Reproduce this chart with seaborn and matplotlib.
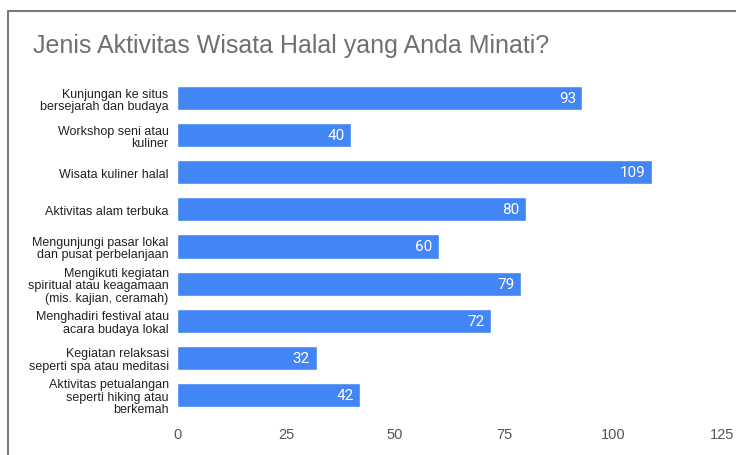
import numpy as np
import pandas as pd
import matplotlib.pyplot as plt
import seaborn as sns
from matplotlib.patches import Rectangle

# data
activities = [
    "Kunjungan ke situs\nbersejarah dan budaya",
    "Workshop seni atau\nkuliner",
    "Wisata kuliner halal",
    "Aktivitas alam terbuka",
    "Mengunjungi pasar lokal\ndan pusat perbelanjaan",
    "Mengikuti kegiatan\nspiritual atau keagamaan\n(mis. kajian, ceramah)",
    "Menghadiri festival atau\nacara budaya lokal",
    "Kegiatan relaksasi\nseperti spa atau meditasi",
    "Aktivitas petualangan\nseperti hiking atau\nberkemah",
]
counts = [93, 40, 109, 80, 60, 79, 72, 32, 42]
x_ticks = [0, 25, 50, 75, 100, 125]

df = pd.DataFrame({"Aktivitas": activities, "Jumlah": counts})

sns.set_style("white")
plt.rcParams['font.family'] = ['Liberation Sans', 'DejaVu Sans']

fig = plt.figure(figsize=(7.36, 4.56), dpi=100)
ax = fig.add_axes([0.2405, 0.091, 0.7405, 0.7325])

sns.barplot(data=df, x="Jumlah", y="Aktivitas", color="#4285F4",
            saturation=1, width=0.65, ax=ax)

for i, v in enumerate(counts):
    ax.text(v - 1.5, i, str(v), ha="right", va="center", color="white",
            fontsize=11, family=['Roboto', 'DejaVu Sans'])

ax.set_xlim(0, 125)
ax.set_xticks(x_ticks)
ax.set_xlabel("")
ax.set_ylabel("")
ax.tick_params(axis="x", labelsize=10.5, labelcolor="#555555", length=0, pad=10)
ax.tick_params(axis="y", labelsize=9, labelcolor="#222222", length=0, pad=6)
for lbl in ax.get_yticklabels():
    lbl.set_multialignment("right")
    lbl.set_linespacing(1.05)
sns.despine(ax=ax, left=True, bottom=True)

fig.text(33 / 736, 1 - 46 / 456, "Jenis Aktivitas Wisata Halal yang Anda Minati?",
         fontsize=18, color="#707070", va="center", ha="left")

# outer frame (cropped at right and bottom)
fig.patches.append(Rectangle((8 / 736, -0.05), 1.0, 1 - 12 / 456 + 0.05,
                             transform=fig.transFigure, fill=False,
                             edgecolor="#7a7a7a", linewidth=1.5))

fig.savefig("out.png", dpi=100)
